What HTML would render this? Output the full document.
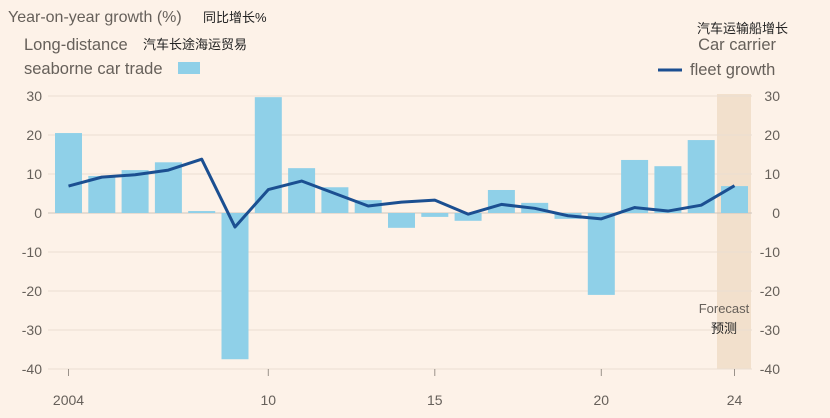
<!DOCTYPE html>
<html><head><meta charset="utf-8"><style>
body{margin:0;background:#fdf2e8;}
svg{display:block;font-family:"Liberation Sans","Noto Sans CJK SC",sans-serif;}
</style></head><body>
<svg id="chart" width="830" height="418" viewBox="0 0 830 418">
<rect width="830" height="418" fill="#fdf2e8"/>
<g>
<text x="8" y="22" font-size="16" fill="#66605a">Year-on-year growth (%)</text>
<text x="203" y="22" font-size="13" fill="#222">同比增长%</text>
</g>
<g>
<text x="24" y="50" font-size="16.5" fill="#66605a">Long-distance</text>
<text x="143" y="49" font-size="13" fill="#222">汽车长途海运贸易</text>
<text x="24" y="74" font-size="16.5" fill="#66605a">seaborne car trade</text>
<rect x="178" y="62" width="22" height="12" fill="#8fd0e8"/>
</g>
<g>
<text x="788" y="33" font-size="13" fill="#222" text-anchor="end">汽车运输船增长</text>
<text x="776" y="50" font-size="16.5" fill="#66605a" text-anchor="end">Car carrier</text>
<line x1="658" y1="70" x2="682" y2="70" stroke="#1b4f91" stroke-width="3"/>
<text x="690" y="75" font-size="16.5" fill="#66605a">fleet growth</text>
</g>
<rect id="fc" x="717" y="94" width="34" height="275" fill="#f2e0cc"/>
<g id="grid"></g><g id="bars"></g><g id="line"></g><g id="ticks"></g>
<text x="724" y="313" font-size="13" fill="#66605a" text-anchor="middle">Forecast</text>
<text x="724" y="333" font-size="13" fill="#222" text-anchor="middle">预测</text>
</svg>
<script>
const years=[2004,2005,2006,2007,2008,2009,2010,2011,2012,2013,2014,2015,2016,2017,2018,2019,2020,2021,2022,2023,2024];
const tradeGrowth=[20.5,9.5,11,13,0.5,-37.5,29.7,11.5,6.6,3.3,-3.8,-1,-2,5.9,2.6,-1.5,-21,13.6,12,18.7,6.9];
const fleetGrowth=[6.9,9.2,9.8,11,13.8,-3.6,6,8.2,5,1.8,2.8,3.3,-0.3,2.2,1.2,-0.7,-1.5,1.4,0.5,2,7];
const yTicks=[30,20,10,0,-10,-20,-30,-40];
const xTicks=[2004,2010,2015,2020,2024];
const xTickLabels=["2004","10","15","20","24"];
const NS="http://www.w3.org/2000/svg";
const x=y=>68.5+(y-2004)*33.3;
const yv=v=>213-v*3.9;
function mk(t,a,p){const e=document.createElementNS(NS,t);for(const k in a)e.setAttribute(k,a[k]);p.appendChild(e);return e;}
const grid=document.getElementById('grid'),ticks=document.getElementById('ticks');
yTicks.forEach(v=>{
 const l=mk('line',{x1:48,x2:752,y1:yv(v),y2:yv(v),stroke:v===0?'#cfc5bb':'#eaded2','stroke-width':1},grid);
 
 
 const t1=mk('text',{x:42,y:yv(v)+5,'font-size':14,fill:'#66605a','text-anchor':'end'},ticks);t1.textContent=v;
 
 
 const t2=mk('text',{x:780,y:yv(v)+5,'font-size':14,fill:'#66605a','text-anchor':'end'},ticks);t2.textContent=v;
 
 
});
xTicks.forEach((yr,i)=>{
 const l=mk('line',{x1:x(yr),x2:x(yr),y1:369,y2:376,stroke:'#9a928a'},ticks);
 
 
 const t=mk('text',{x:x(yr),y:405,'font-size':14,fill:'#66605a','text-anchor':'middle'},ticks);t.textContent=xTickLabels[i];
 
 
});
const bars=document.getElementById('bars');
years.forEach((yr,i)=>{
 const v=tradeGrowth[i],y0=yv(Math.max(v,0)),h=Math.abs(yv(v)-yv(0));
 const r=mk('rect',{x:x(yr)-13.5,y:y0,width:27,height:Math.max(h,1),fill:'#8fd0e8'},bars);
 
 
});
const pts=years.map((yr,i)=>x(yr)+','+yv(fleetGrowth[i])).join(' ');
const pl=mk('polyline',{points:pts,fill:'none',stroke:'#1b4f91','stroke-width':3,'stroke-linejoin':'round'},document.getElementById('line'));


</script>
</body></html>
